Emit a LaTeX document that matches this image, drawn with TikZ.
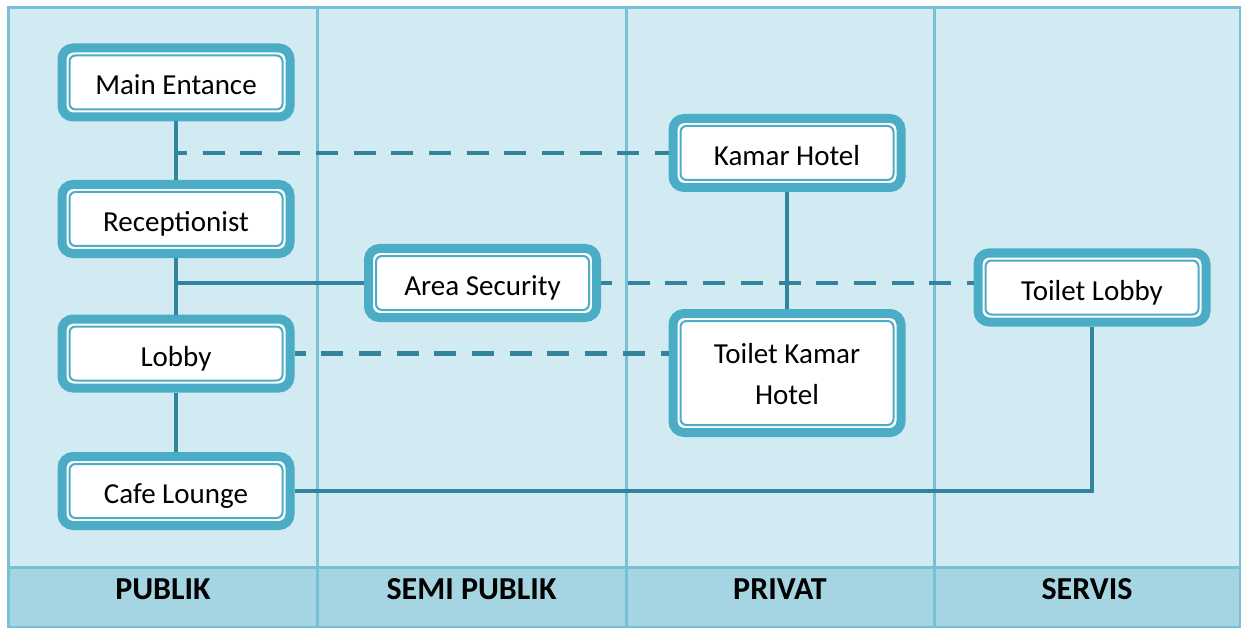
\documentclass[tikz,border=0pt]{standalone}
\usepackage{fontspec}
\setmainfont{Carlito}
\usetikzlibrary{calc}
\definecolor{cellbg}{RGB}{210,234,241}
\definecolor{headbg}{RGB}{165,213,226}
\definecolor{gridc}{RGB}{120,192,212}
\definecolor{boxc}{RGB}{75,172,198}
\definecolor{linkc}{RGB}{49,132,155}
\tikzset{
  room/.style={draw=boxc, line width=9pt, fill=white, rounded corners=11pt,
    minimum width=228pt, minimum height=69pt, inner sep=0pt, align=center,
    text height=25pt, text depth=0pt, font=\fontsize{29}{41}\selectfont},
  roomline/.style={draw=boxc, line width=2pt, rounded corners=6pt},
  link/.style={draw=linkc, line width=4.5pt},
  dlink/.style={link, dash pattern=on 22pt off 15.7pt, dash phase=11pt},
  grid line/.style={draw=gridc, line width=3pt},
  head/.style={font=\fontsize{32}{32}\selectfont\bfseries, anchor=base, inner sep=0pt},
}
\begin{document}
\begin{tikzpicture}[x=1pt,y=-1pt]
\useasboundingbox (0,0) rectangle (1241,628);
% table background and header row
\fill[cellbg] (8.5,7.5) rectangle (1240,567);
\fill[headbg] (8.5,567) rectangle (1240,627);
\foreach \x in {317,626,934} \draw[grid line] (\x,7.5) -- (\x,627);
\draw[grid line] (8.5,567) -- (1240,567);
\draw[grid line] (8.5,7.5) rectangle (1240,627);

% column headings
\node[head] (h1) at (163,599) {PUBLIK};
\node[head] (h2) at (471.5,599) {SEMI PUBLIK};
\node[head] (h3) at (780,599) {PRIVAT};
\node[head] (h4) at (1087,599) {SERVIS};

% rooms
\node[room] (me) at (176,82.5) {Main Entance};
\node[room] (rc) at (176,219) {Receptionist};
\node[room] (lb) at (176,353.5) {Lobby};
\node[room] (cl) at (176,491) {Cafe Lounge};
\node[room] (kh) at (787,153) {Kamar Hotel};
\node[room] (as) at (482.5,283) {Area Security};
\node[room] (tl) at (1092,287.5) {Toilet Lobby};
\node[room, minimum height=119pt, text height=62pt] (tk) at (787,373) {Toilet Kamar\\Hotel};

% inner frame lines
\foreach \n in {me,rc,lb,cl,kh,as,tl,tk}
  \draw[roomline] ([shift={(12,12)}]\n.north west) rectangle ([shift={(-12,-12)}]\n.south east);

% relations
\draw[link] (me.south) -- (rc.north);
\draw[link] (rc.south) -- (lb.north);
\draw[link] (lb.south) -- (cl.north);
\draw[dlink] (kh.west -| me.south) -- (kh.west);
\draw[link] (as.west -| rc.south) -- (as.west);
\draw[dlink] (as.east) -- (as.east -| tl.west);
\draw[link] (kh.south) -- (tk.north);
\draw[dlink] (lb.east) -- (lb.east -| tk.west);
\draw[link] (cl.east) -| (tl.south);
\end{tikzpicture}
\end{document}
